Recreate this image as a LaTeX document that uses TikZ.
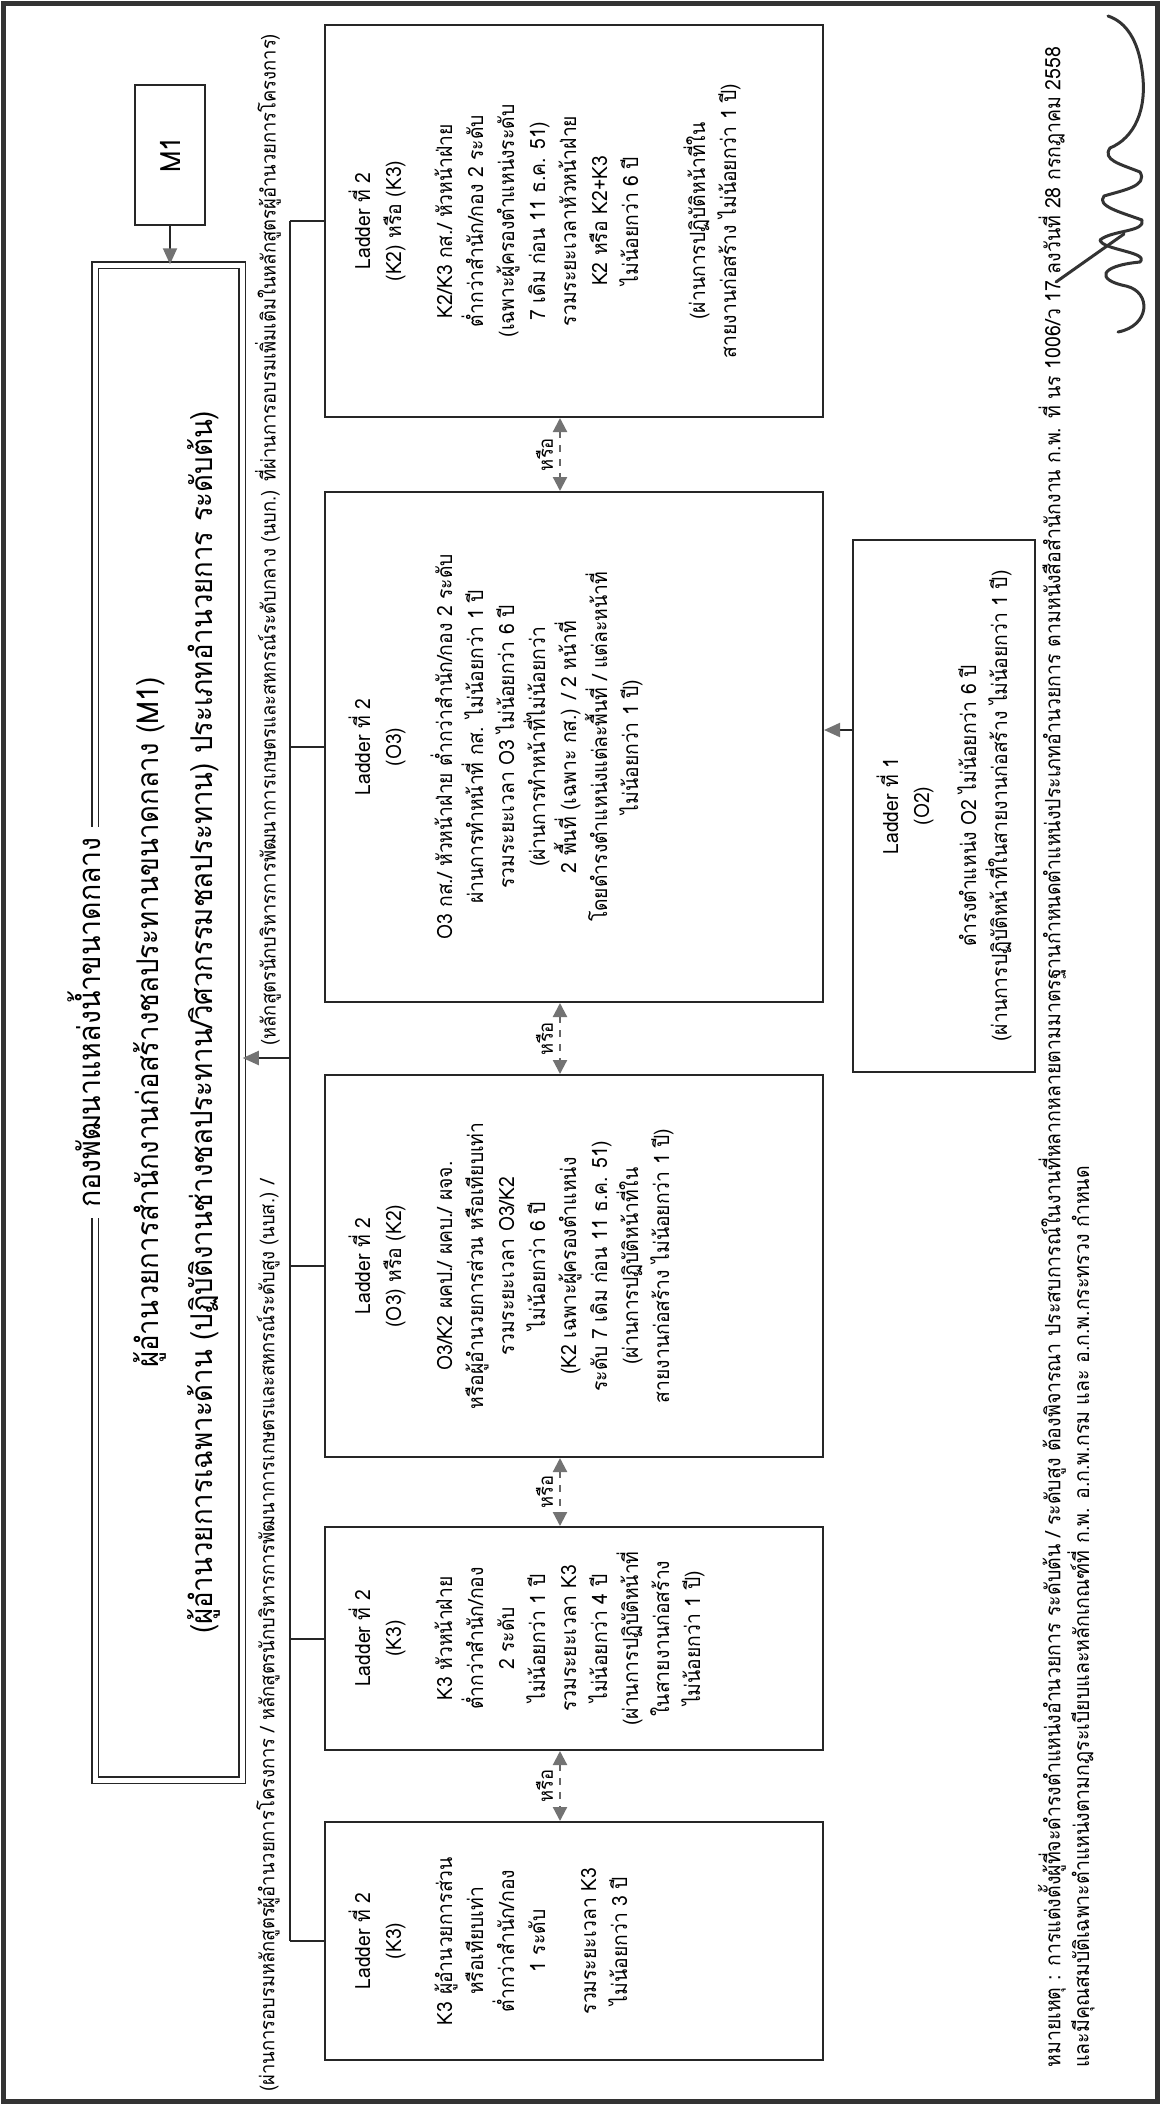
\documentclass[tikz,border=0pt]{standalone}
\usepackage{fontspec}
\setmainfont{Loma}[Script=Thai, FakeStretch=0.92]
\usetikzlibrary{arrows.meta,fit}
\begin{document}
\begin{tikzpicture}[x=0.5pt,y=-0.5pt,
  every node/.style={inner sep=0pt},
  frame/.style={draw=black!85, line width=1pt},
  bxtxt/.style={rotate=90, anchor=north, align=center, font=\fontsize{10.5}{15.5}\selectfont},
  conn/.style={draw=black!85, line width=1pt},
  arr/.style={conn, -{Triangle[length=8pt,width=7pt,color=black!55]}},
  orarr/.style={draw=black!60, line width=1.1pt, dash pattern=on 3.5pt off 3.5pt,
     {Triangle[length=7pt,width=7pt,color=black!55]}-{Triangle[length=7pt,width=7pt,color=black!55]}},
  orlab/.style={rotate=90, anchor=south, inner sep=3pt, font=\fontsize{10}{12}\selectfont},
  small/.style={rotate=90, font=\fontsize{10}{12}\selectfont},
  foot/.style={rotate=90, font=\fontsize{10.6}{13}\selectfont},
  sig/.style={draw=black!80, line width=1.5pt, line cap=round, line join=round},
]
\useasboundingbox (0,0) rectangle (1160,2104);
\draw[line width=2.5pt, black!80] (3,3) rectangle (1157,2101);

% M1 and main box
\node[frame, fit={(135,85) (205,225)}] (M1) {};
\node[rotate=90, font=\fontsize{14}{16}\selectfont] (M1t) at (M1) {M1};
\node[draw=black!85, double, double distance=2.5pt, line width=0.75pt, fit={(95,265) (242,1780)}] (main) {};
\node[rotate=90, fill=white, inner xsep=5pt, inner ysep=2pt, font=\fontsize{15.5}{19}\selectfont] (title) at ([xshift=-5pt]main.west) {กองพัฒนาแหล่งน้ำขนาดกลาง};
\node[rotate=90, align=center, font=\fontsize{15}{27}\selectfont] (maintext) at ([xshift=4pt]main.center) {ผู้อำนวยการสำนักงานก่อสร้างชลประทานขนาดกลาง (M1)\\(ผู้อำนวยการเฉพาะด้าน (ปฏิบัติงานช่างชลประทาน/วิศวกรรมชลประทาน) ประเภทอำนวยการ ระดับต้น)};
\draw[arr] (M1.south) -- (M1.south |- main.north);

% qualification line
\node[small, anchor=west] (q1) at (268,2092) {(ผ่านการอบรมหลักสูตรผู้อำนวยการโครงการ / หลักสูตรนักบริหารการพัฒนาการเกษตรและสหกรณ์ระดับสูง (นบส.) /};
\node[small, anchor=west] (q2) at (268,1046) {(หลักสูตรนักบริหารการพัฒนาการเกษตรและสหกรณ์ระดับกลาง (นบก.) ที่ผ่านการอบรมเพิ่มเติมในหลักสูตรผู้อำนวยการโครงการ)};

% ladder boxes
\node[frame, fit={(325,25) (823,417)}] (E) {};
\node[frame, fit={(325,492) (823,1002)}] (D) {};
\node[frame, fit={(325,1075) (823,1457)}] (C) {};
\node[frame, fit={(325,1527) (823,1750)}] (B) {};
\node[frame, fit={(325,1822) (823,2060)}] (A) {};
\node[frame, fit={(853,540) (1035,1072)}] (F) {};

\node[bxtxt] (Et) at ([xshift=12pt]E.west) {Ladder ที่ 2\\(K2) หรือ (K3)\\[10pt]K2/K3 กส./ หัวหน้าฝ่าย\\ต่ำกว่าสำนัก/กอง 2 ระดับ\\(เฉพาะผู้ครองตำแหน่งระดับ\\7 เดิม ก่อน 11 ธ.ค. 51)\\รวมระยะเวลาหัวหน้าฝ่าย\\K2 หรือ K2+K3\\ไม่น้อยกว่า 6 ปี\\[18pt](ผ่านการปฏิบัติหน้าที่ใน\\สายงานก่อสร้าง ไม่น้อยกว่า 1 ปี)};
\node[bxtxt] (Dt) at ([xshift=12pt]D.west) {Ladder ที่ 2\\(O3)\\[10pt]O3 กส./ หัวหน้าฝ่าย ต่ำกว่าสำนัก/กอง 2 ระดับ\\ผ่านการทำหน้าที่ กส. ไม่น้อยกว่า 1 ปี\\รวมระยะเวลา O3 ไม่น้อยกว่า 6 ปี\\(ผ่านการทำหน้าที่ไม่น้อยกว่า\\2 พื้นที่ (เฉพาะ กส.) / 2 หน้าที่\\โดยดำรงตำแหน่งแต่ละพื้นที่ / แต่ละหน้าที่\\ไม่น้อยกว่า 1 ปี)};
\node[bxtxt] (Ct) at ([xshift=12pt]C.west) {Ladder ที่ 2\\(O3) หรือ (K2)\\[10pt]O3/K2 ผคป./ ผคบ./ ผจจ.\\หรือผู้อำนวยการส่วน หรือเทียบเท่า\\รวมระยะเวลา O3/K2\\ไม่น้อยกว่า 6 ปี\\(K2 เฉพาะผู้ครองตำแหน่ง\\ระดับ 7 เดิม ก่อน 11 ธ.ค. 51)\\(ผ่านการปฏิบัติหน้าที่ใน\\สายงานก่อสร้าง ไม่น้อยกว่า 1 ปี)};
\node[bxtxt] (Bt) at ([xshift=12pt]B.west) {Ladder ที่ 2\\(K3)\\[10pt]K3 หัวหน้าฝ่าย\\ต่ำกว่าสำนัก/กอง\\2 ระดับ\\ไม่น้อยกว่า 1 ปี\\รวมระยะเวลา K3\\ไม่น้อยกว่า 4 ปี\\(ผ่านการปฏิบัติหน้าที่\\ในสายงานก่อสร้าง\\ไม่น้อยกว่า 1 ปี)};
\node[bxtxt] (At) at ([xshift=12pt]A.west) {Ladder ที่ 2\\(K3)\\[10pt]K3 ผู้อำนวยการส่วน\\หรือเทียบเท่า\\ต่ำกว่าสำนัก/กอง\\1 ระดับ\\[10pt]รวมระยะเวลา K3\\ไม่น้อยกว่า 3 ปี};
\node[bxtxt] (Ft) at ([xshift=12pt]F.west) {Ladder ที่ 1\\(O2)\\[8pt]ดำรงตำแหน่ง O2 ไม่น้อยกว่า 6 ปี\\(ผ่านการปฏิบัติหน้าที่ในสายงานก่อสร้าง ไม่น้อยกว่า 1 ปี)};

% bus and connectors
\coordinate (bus) at (290,0);
\draw[conn] (bus |- E.west) -- (bus |- A.west);
\foreach \b in {E,D,C,B,A} \draw[conn] (bus |- \b.west) -- (\b.west);
\coordinate (qa) at (290,1058);
\draw[arr] (qa) -- (qa -| main.east);

% "or" arrows
\coordinate (orx) at (560,0);
\draw[orarr] (orx |- E.south) -- node[orlab] {หรือ} (orx |- D.north);
\draw[orarr] (orx |- D.south) -- node[orlab] {หรือ} (orx |- C.north);
\draw[orarr] (orx |- C.south) -- node[orlab] {หรือ} (orx |- B.north);
\draw[orarr] (orx |- B.south) -- node[orlab] {หรือ} (orx |- A.north);

% ladder 1 -> O3
\coordinate (fd) at (0,730);
\draw[arr] (F.west |- fd) -- (D.east |- fd);

% footer
\node[foot, anchor=west] (n1) at (1052,2068) {หมายเหตุ : การแต่งตั้งผู้ที่จะดำรงตำแหน่งอำนวยการ ระดับต้น / ระดับสูง ต้องพิจารณา ประสบการณ์ในงานที่หลากหลายตามมาตรฐานกำหนดตำแหน่งประเภทอำนวยการ ตามหนังสือสำนักงาน ก.พ. ที่ นร 1006/ว 17 ลงวันที่ 28 กรกฎาคม 2558};
\node[foot, anchor=west] (n2) at (1081,2068) {และมีคุณสมบัติเฉพาะตำแหน่งตามกฎระเบียบและหลักเกณฑ์ที่ ก.พ. อ.ก.พ.กรม และ อ.ก.พ.กระทรวง กำหนด};

% signature
\draw[sig] (1118,332) .. controls (1150,326) and (1152,292) .. (1126,286)
  .. controls (1096,280) and (1098,266) .. (1140,262)
  .. controls (1150,252) and (1102,250) .. (1100,240)
  .. controls (1112,230) and (1146,232) .. (1142,220)
  .. controls (1120,212) and (1096,206) .. (1104,196)
  .. controls (1124,190) and (1148,186) .. (1140,172)
  .. controls (1120,164) and (1102,160) .. (1110,148)
  .. controls (1134,138) and (1148,110) .. (1142,70)
  .. controls (1138,40) and (1126,22) .. (1108,16);
\draw[sig] (1056,282) -- (1124,234);
\end{tikzpicture}
\end{document}
